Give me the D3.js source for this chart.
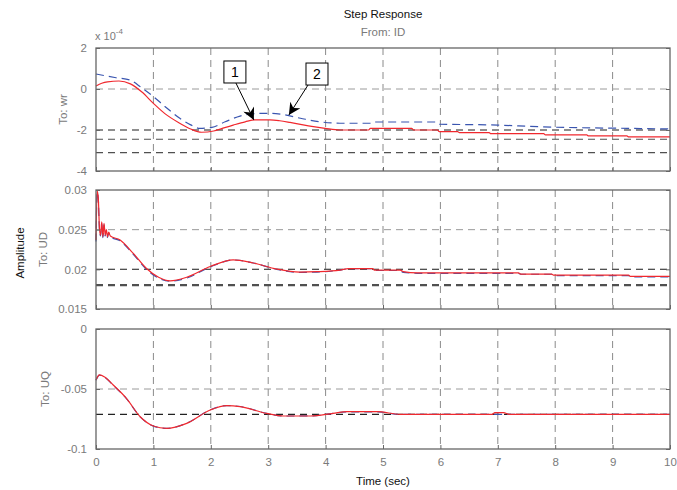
<!DOCTYPE html>
<html lang="en">
  <head>
    <meta charset="UTF-8" />
    <title>Step Response</title>
    <style>
      html,
      body {
        width: 100%;
        margin: 0;
        background: #fff;
      }
      svg {
        display: block;
        font-family: "Liberation Sans", Arial, sans-serif;
      }
    </style>
    <script src="https://cdn.jsdelivr.net/npm/d3@7"></script>
  </head>

  <body>
    <script>
      const width = 677;
      const height = 490;
      const margin = { left: 96, right: 7 };

      // time axis
      const timeTicks = [0, 1, 2, 3, 4, 5, 6, 7, 8, 9, 10];

      // panel 1: To: wr (values in units of 1e-4)
      const wrTicks = [2, 0, -2, -4];
      const wrTickLabels = ["2", "0", "-2", "-4"];
      const wrRefs = [-2, -2.45, -3.1];
      const wrRedT = [0, 0.1, 0.2, 0.4, 0.6, 0.8, 1.0, 1.2, 1.46, 1.65, 1.84, 2.05, 2.2, 2.39, 2.6, 2.77, 3.03, 3.2, 3.38, 3.7, 3.99, 4.25, 4.75, 4.78, 5.5, 5.53, 5.95, 5.98, 6.3, 6.33, 6.85, 6.88, 7.8, 7.83, 8.55, 8.58, 9.25, 9.28, 10];
      const wrRed = [0.15, 0.28, 0.35, 0.39, 0.25, -0.15, -0.7, -1.2, -1.67, -1.95, -2.11, -2.05, -1.92, -1.76, -1.6, -1.51, -1.51, -1.55, -1.63, -1.8, -1.92, -2.0, -2.0, -1.92, -1.92, -2.0, -2.0, -2.08, -2.08, -2.13, -2.13, -2.18, -2.18, -2.24, -2.24, -2.29, -2.29, -2.34, -2.34];
      const wrBlueT = [0, 0.15, 0.35, 0.59, 0.8, 1.0, 1.2, 1.46, 1.65, 1.81, 2.02, 2.25, 2.51, 2.7, 2.86, 3.05, 3.25, 3.6, 3.9, 4.25, 4.8, 4.83, 5.95, 5.98, 7.0, 7.7, 9.25, 10];
      const wrBlue = [0.73, 0.65, 0.55, 0.44, 0.05, -0.37, -0.85, -1.43, -1.75, -1.92, -1.87, -1.6, -1.32, -1.22, -1.19, -1.19, -1.24, -1.45, -1.6, -1.67, -1.67, -1.61, -1.61, -1.71, -1.76, -1.84, -1.92, -1.95];

      // panel 2: To: UD
      const udTicks = [0.03, 0.025, 0.02, 0.015];
      const udTickLabels = ["0.03", "0.025", "0.02", "0.015"];
      const udRefs = [0.02, 0.018];
      const udRedT = [0, 0.02, 0.04, 0.06, 0.08, 0.1, 0.12, 0.14, 0.16, 0.18, 0.2, 0.22, 0.25, 0.42, 0.65, 0.88, 1.09, 1.29, 1.58, 1.99, 2.39, 2.74, 3.15, 3.55, 3.85, 4.25, 4.4, 4.82, 4.85, 5.3, 5.35, 5.6, 7.36, 7.4, 7.94, 7.97, 9.28, 9.31, 10];
      const udRed = [0.0237, 0.0299, 0.029, 0.0252, 0.0243, 0.026, 0.0241, 0.0258, 0.0243, 0.025, 0.0241, 0.0247, 0.0242, 0.0237, 0.022, 0.0201, 0.019, 0.01855, 0.019, 0.02035, 0.0212, 0.0208, 0.02003, 0.01965, 0.0197, 0.0199, 0.0201, 0.0201, 0.0199, 0.0199, 0.01972, 0.01956, 0.01956, 0.0194, 0.0194, 0.01926, 0.01926, 0.0191, 0.0191];
      const udBlueT = [0, 0.02, 0.04, 0.06, 0.08, 0.1, 0.12, 0.14, 0.16, 0.18, 0.2, 0.22, 0.25, 0.42, 0.65, 0.88, 1.09, 1.29, 1.58, 1.99, 2.39, 2.74, 3.15, 3.55, 3.85, 4.25, 4.4, 4.82, 4.85, 5.3, 5.35, 5.6, 7.36, 7.4, 7.94, 7.97, 9.28, 9.31, 10];
      const udBlue = [0.0235, 0.0297, 0.0288, 0.025, 0.0242, 0.0258, 0.024, 0.0256, 0.0242, 0.0249, 0.024, 0.0246, 0.0241, 0.0236, 0.0219, 0.02, 0.0189, 0.01852, 0.0189, 0.0203, 0.02118, 0.0208, 0.02, 0.01962, 0.01965, 0.0199, 0.02008, 0.02008, 0.01985, 0.01985, 0.01962, 0.0195, 0.0195, 0.01938, 0.01938, 0.0192, 0.0192, 0.01905, 0.01905];

      // panel 3: To: UQ
      const uqTicks = [0, -0.05, -0.1];
      const uqTickLabels = ["0", "-0.05", "-0.1"];
      const uqRefs = [-0.0711];
      const uqRedT = [0, 0.06, 0.15, 0.3, 0.53, 0.77, 1.0, 1.23, 1.58, 1.99, 2.28, 2.51, 2.97, 3.27, 3.74, 4.13, 4.37, 4.9, 5.3, 6.9, 6.95, 7.1, 7.2, 10];
      const uqRed = [-0.0425, -0.0383, -0.04, -0.0467, -0.0578, -0.0731, -0.0808, -0.0828, -0.0786, -0.0675, -0.0639, -0.0647, -0.0703, -0.0725, -0.0725, -0.0703, -0.0689, -0.0689, -0.0711, -0.0711, -0.0697, -0.0697, -0.0711, -0.0711];
      const uqBlueT = [0, 0.06, 0.15, 0.3, 0.53, 0.77, 1.0, 1.23, 1.58, 1.99, 2.28, 2.51, 2.97, 3.27, 3.74, 4.13, 4.37, 4.9, 5.3, 10];
      const uqBlue = [-0.0428, -0.0385, -0.0402, -0.0469, -0.058, -0.0732, -0.0809, -0.0828, -0.0785, -0.0674, -0.0638, -0.0646, -0.0703, -0.0725, -0.0724, -0.0703, -0.069, -0.069, -0.0712, -0.0712];

      const panels = [
        { label: "To: wr", labelX: 67, top: 48, bottom: 171, domain: [-4, 2], ticks: wrTicks, tickLabels: wrTickLabels, refs: wrRefs,
          red: [wrRedT, wrRed], blue: [wrBlueT, wrBlue] },
        { label: "To: UD", labelX: 47, top: 190, bottom: 309, domain: [0.015, 0.03], ticks: udTicks, tickLabels: udTickLabels, refs: udRefs,
          red: [udRedT, udRed], blue: [udBlueT, udBlue] },
        { label: "To: UQ", labelX: 49, top: 329, bottom: 449, domain: [-0.1, 0], ticks: uqTicks, tickLabels: uqTickLabels, refs: uqRefs,
          red: [uqRedT, uqRed], blue: [uqBlueT, uqBlue] },
      ];

      const svg = d3
        .select("body")
        .append("svg")
        .attr("width", width)
        .attr("height", height);

      const defs = svg.append("defs");
      defs
        .append("marker")
        .attr("id", "head")
        .attr("viewBox", "0 0 10 10")
        .attr("refX", 10)
        .attr("refY", 5)
        .attr("markerWidth", 15)
        .attr("markerHeight", 12)
        .attr("markerUnits", "userSpaceOnUse")
        .attr("orient", "auto")
        .append("path")
        .attr("d", "M0,0 L10,5 L0,10 L3,5 Z")
        .attr("fill", "#000");

      const x = d3
        .scaleLinear()
        .domain([0, 10])
        .range([margin.left, width - margin.right]);

      const tickColor = "#7a7a7a";

      panels.forEach((p, i) => {
        const y = d3.scaleLinear().domain(p.domain).range([p.bottom, p.top]);
        const g = svg.append("g");

        // grid
        g.selectAll(".vgrid")
          .data(timeTicks.slice(1, -1))
          .enter()
          .append("line")
          .attr("x1", (d) => x(d))
          .attr("x2", (d) => x(d))
          .attr("y1", p.top)
          .attr("y2", p.bottom)
          .attr("stroke", "#8a8a8a")
          .attr("stroke-width", 1)
          .attr("stroke-dasharray", "7,5");
        g.selectAll(".hgrid")
          .data(p.ticks.slice(1, -1))
          .enter()
          .append("line")
          .attr("x1", x(0))
          .attr("x2", x(10))
          .attr("y1", (d) => y(d))
          .attr("y2", (d) => y(d))
          .attr("stroke", "#9a9a9a")
          .attr("stroke-width", 1)
          .attr("stroke-dasharray", "7,5");

        // reference lines
        g.selectAll(".ref")
          .data(p.refs)
          .enter()
          .append("line")
          .attr("x1", x(0))
          .attr("x2", x(10))
          .attr("y1", (d) => y(d))
          .attr("y2", (d) => y(d))
          .attr("stroke", (d, j) => (i === 2 ? "#222" : "#505050"))
          .attr("stroke-width", (d, j) => (i === 1 && j === 1 ? 2.2 : 1.2))
          .attr("stroke-dasharray", "7,5");

        const line = d3
          .line()
          .x((d) => x(d[0]))
          .y((d) => y(d[1]))
          .curve(d3.curveMonotoneX);

        const blueData = p.blue[0].map((t, k) => [t, p.blue[1][k]]);
        const redData = p.red[0].map((t, k) => [t, p.red[1][k]]);

        g.append("path")
          .datum(blueData)
          .attr("d", line)
          .attr("fill", "none")
          .attr("stroke", "#3a55b0")
          .attr("stroke-width", 1.2)
          .attr("stroke-dasharray", "8,5");
        g.append("path")
          .datum(redData)
          .attr("d", line)
          .attr("fill", "none")
          .attr("stroke", "#f0282e")
          .attr("stroke-width", 1.2);

        // frame
        g.append("rect")
          .attr("x", x(0))
          .attr("y", p.top)
          .attr("width", x(10) - x(0))
          .attr("height", p.bottom - p.top)
          .attr("fill", "none")
          .attr("stroke", "#666")
          .attr("stroke-width", 1.3);

        // y axis
        const yAxis = d3
          .axisLeft(y)
          .tickValues(p.ticks)
          .tickFormat((d, k) => p.tickLabels[k])
          .tickSize(-4)
          .tickPadding(9);
        const ya = g
          .append("g")
          .attr("transform", `translate(${x(0)},0)`)
          .call(yAxis);
        ya.select(".domain").remove();
        ya.selectAll("line").attr("stroke", "#666");
        ya.selectAll("text")
          .attr("fill", tickColor)
          .style("font-size", "11.5px")
          .style("font-family", "Liberation Sans, Arial, sans-serif");

        const yAxisR = d3.axisRight(y).tickValues(p.ticks).tickFormat("").tickSize(-4);
        const yr = g
          .append("g")
          .attr("transform", `translate(${x(10)},0)`)
          .call(yAxisR);
        yr.select(".domain").remove();
        yr.selectAll("line").attr("stroke", "#666");

        // x ticks
        const xAxis = d3
          .axisBottom(x)
          .tickValues(timeTicks)
          .tickFormat(i === 2 ? d3.format("d") : "")
          .tickSize(-4)
          .tickPadding(9);
        const xa = g
          .append("g")
          .attr("transform", `translate(0,${p.bottom})`)
          .call(xAxis);
        xa.select(".domain").remove();
        xa.selectAll("line").attr("stroke", "#666");
        xa.selectAll("text")
          .attr("fill", tickColor)
          .style("font-size", "11.5px")
          .style("font-family", "Liberation Sans, Arial, sans-serif");

        // panel label
        svg
          .append("text")
          .attr("transform", `translate(${p.labelX},${(p.top + p.bottom) / 2}) rotate(-90)`)
          .attr("text-anchor", "middle")
          .attr("fill", tickColor)
          .style("font-size", "11.5px")
          .text(p.label);

        p.y = y;
      });

      // exponent label for panel 1
      const expo = svg.append("text").attr("x", 95).attr("y", 40).attr("fill", tickColor).style("font-size", "11px");
      expo.append("tspan").text("x 10");
      expo.append("tspan").attr("dy", -6).style("font-size", "8px").text("-4");

      // titles
      svg
        .append("text")
        .attr("x", x(5))
        .attr("y", 18)
        .attr("text-anchor", "middle")
        .attr("fill", "#111")
        .style("font-size", "11.5px")
        .text("Step Response");
      svg
        .append("text")
        .attr("x", x(5))
        .attr("y", 36)
        .attr("text-anchor", "middle")
        .attr("fill", tickColor)
        .style("font-size", "11.5px")
        .text("From: ID");
      svg
        .append("text")
        .attr("transform", `translate(24,253) rotate(-90)`)
        .attr("text-anchor", "middle")
        .attr("fill", "#111")
        .style("font-size", "11.5px")
        .text("Amplitude");
      svg
        .append("text")
        .attr("x", x(5))
        .attr("y", 485)
        .attr("text-anchor", "middle")
        .attr("fill", "#111")
        .style("font-size", "11.5px")
        .text("Time (sec)");

      // annotations on panel 1
      const y1 = panels[0].y;
      const notes = [
        { text: "1", bx: 2.42, by: 0.83, startDx: 1, tipT: 2.75, tipV: -1.51 },
        { text: "2", bx: 3.85, by: 0.73, startDx: -9, tipT: 3.36, tipV: -1.27 },
      ];
      notes.forEach((n) => {
        const cx = x(n.bx);
        const cy = y1(n.by);
        svg
          .append("rect")
          .attr("x", cx - 11)
          .attr("y", cy - 11)
          .attr("width", 22)
          .attr("height", 22)
          .attr("fill", "#fff")
          .attr("stroke", "#000")
          .attr("stroke-width", 1);
        svg
          .append("text")
          .attr("x", cx)
          .attr("y", cy + 5)
          .attr("text-anchor", "middle")
          .attr("fill", "#000")
          .style("font-size", "14px")
          .text(n.text);
        svg
          .append("line")
          .attr("x1", cx + n.startDx)
          .attr("y1", cy + 11)
          .attr("x2", x(n.tipT))
          .attr("y2", y1(n.tipV))
          .attr("stroke", "#000")
          .attr("stroke-width", 1)
          .attr("marker-end", "url(#head)");
      });
    </script>
  </body>
</html>
